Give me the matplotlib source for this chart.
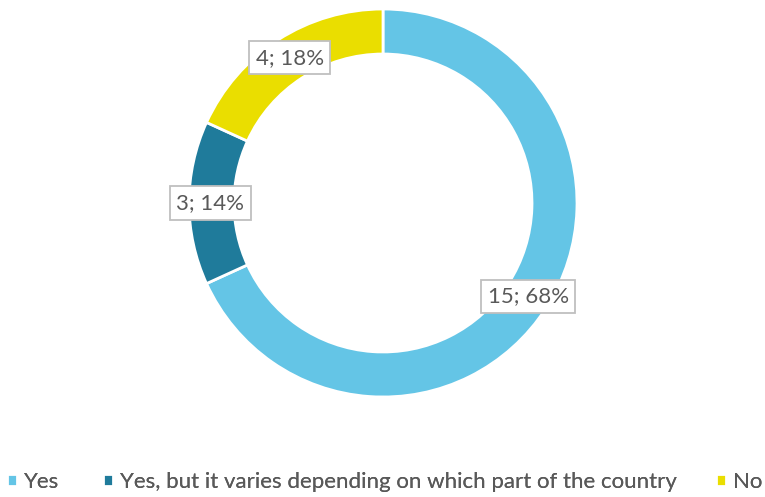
import matplotlib.pyplot as plt
import numpy as np

labels = ["Yes", "Yes, but it varies depending on which part of the country", "No"]
counts = [15, 3, 4]
colors = ["#64C5E6", "#1F7B9B", "#EADE00"]

plt.rcParams['font.family'] = ['Lato', 'DejaVu Sans']
text_color = "#595959"

fig = plt.figure(figsize=(7.65, 4.97), dpi=100)
# donut axes: centre (383, 203) px, radius 194 px
cx, cy, r = 383, 203, 194
ax = fig.add_axes([(cx - r) / 765, (497 - cy - r) / 497, 2 * r / 765, 2 * r / 497])

wedges, _ = ax.pie(counts, colors=colors, startangle=90, counterclock=False,
                   radius=1, wedgeprops=dict(width=0.232, edgecolor="white", linewidth=2))
ax.set_xlim(-1, 1)
ax.set_ylim(-1, 1)
ax.set_aspect("equal")
ax.axis("off")

# data labels in boxes on the ring
total = sum(counts)
for w, n in zip(wedges, counts):
    ang = np.deg2rad((w.theta1 + w.theta2) / 2)
    x, y = 0.89 * np.cos(ang), 0.89 * np.sin(ang)
    ax.text(x, y, f"{n}; {round(100 * n / total)}%", ha="center", va="center",
            fontsize=16, color=text_color,
            bbox=dict(boxstyle="square,pad=0.3", fc="white", ec="#BFBFBF", lw=1.3))

# legend entries, one per item, placed along the bottom
legend_x = [7, 103, 716]
for w, lab, lx in zip(wedges, labels, legend_x):
    leg = fig.legend([w], [lab], loc="center left", bbox_to_anchor=(lx / 765, 1 - 482 / 497),
                     frameon=False, fontsize=16, labelcolor=text_color,
                     handlelength=0.45, handleheight=0.45, handletextpad=0.3,
                     borderpad=0, borderaxespad=0)
    fig.add_artist(leg)

fig.savefig("out.png", dpi=100)
